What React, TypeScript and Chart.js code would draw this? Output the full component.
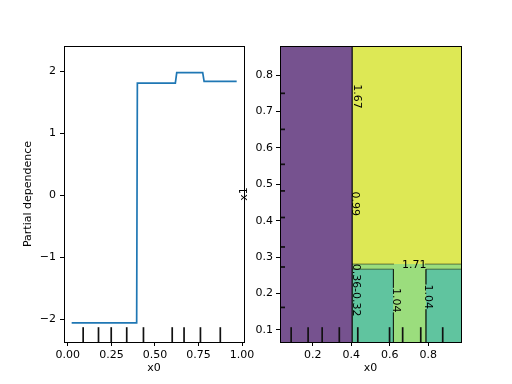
import React, { useEffect, useRef } from "react";
import { Chart, registerables } from "chart.js";
Chart.register(...registerables);

// ---------- data: one-way partial dependence (left) ----------
const X0_TICKS = [0, 0.25, 0.5, 0.75, 1.0];
const PD_TICKS = [-2, -1, 0, 1, 2];
const PD_X = [0.022, 0.395, 0.399, 0.617, 0.625, 0.774, 0.782, 0.969];
const PD_Y = [-2.06, -2.06, 1.81, 1.81, 1.98, 1.98, 1.84, 1.84];
const X0_DECILES = [0.088, 0.176, 0.249, 0.338, 0.434, 0.599, 0.667, 0.761, 0.875];

// ---------- data: two-way partial dependence (right) ----------
const CX_TICKS = [0.2, 0.4, 0.6, 0.8];
const CY_TICKS = [0.1, 0.2, 0.3, 0.4, 0.5, 0.6, 0.7, 0.8];
const X1_DECILES = [0.75, 0.651, 0.555, 0.482, 0.409, 0.328, 0.273, 0.162];

// filled contour bands (rectangular regions in data units)
const REGION_LEFT = [0.03, 0.405, 0.405, 0.405, 0.788];
const REGION_RIGHT = [0.405, 0.97, 0.97, 0.619, 0.97];
const REGION_TOP = [0.88, 0.88, 0.281, 0.267, 0.267];
const REGION_BOTTOM = [0.067, 0.281, 0.067, 0.067, 0.067];
const REGION_COLORS = ["#76528f", "#dde855", "#9bdd7d", "#60c49f", "#60c49f"];
const REGION_ORDER = [2, 2, 3, 2, 2];

// contour lines (null y = break for inline label)
const LINE_V_X = [0.405, 0.405];
const LINE_V_Y = [0.067, 0.88];
const LINE_171_X = [0.405, 0.622, 0.622, 0.783, 0.97];
const LINE_171_Y = [0.281, 0.281, null, 0.281, 0.281];
const LINE_104A_X = [0.405, 0.619, 0.619, 0.619, 0.619, 0.619];
const LINE_104A_Y = [0.267, 0.267, 0.216, null, 0.148, 0.067];
const LINE_104B_X = [0.97, 0.788, 0.788, 0.788, 0.788, 0.788];
const LINE_104B_Y = [0.267, 0.267, 0.225, null, 0.157, 0.067];

// contour labels
const CLABEL_TEXT = ["1.67", "0.99", "0.36", "-0.32", "1.71", "1.04", "1.04"];
const CLABEL_X = [0.428, 0.42, 0.423, 0.423, 0.727, 0.633, 0.8];
const CLABEL_Y = [0.741, 0.447, 0.248, 0.176, 0.279, 0.182, 0.191];
const CLABEL_ROT = [90, 90, 90, 90, 0, 90, 90];

const FONT = { family: "DejaVu Sans", size: 11 };

const pts = (xs: number[], ys: (number | null)[]) => xs.map((x, i) => ({ x, y: ys[i] }));

const framePlugin = {
  id: "frame",
  afterDraw(chart: any) {
    const { ctx, chartArea: a } = chart;
    ctx.save();
    ctx.strokeStyle = "#000";
    ctx.lineWidth = 1;
    ctx.strokeRect(Math.round(a.left) + 0.5, Math.round(a.top) + 0.5, Math.round(a.right - a.left), Math.round(a.bottom - a.top));
    ctx.restore();
  },
};

const makeDecilePlugin = (xd: number[], yd: number[]) => ({
  id: "deciles",
  afterDatasetsDraw(chart: any) {
    const { ctx, chartArea: a, scales } = chart;
    ctx.save();
    ctx.strokeStyle = "#111";
    ctx.lineWidth = 1.7;
    const h = (a.bottom - a.top) * 0.05;
    xd.forEach((v) => {
      const px = scales.x.getPixelForValue(v);
      ctx.beginPath();
      ctx.moveTo(px, a.bottom);
      ctx.lineTo(px, a.bottom - h);
      ctx.stroke();
    });
    yd.forEach((v) => {
      const py = scales.y.getPixelForValue(v);
      ctx.beginPath();
      ctx.moveTo(a.left, py);
      ctx.lineTo(a.left + 5, py);
      ctx.stroke();
    });
    ctx.restore();
  },
});

const clabelPlugin = {
  id: "clabels",
  afterDatasetsDraw(chart: any) {
    const { ctx, scales } = chart;
    ctx.save();
    ctx.font = '11px "DejaVu Sans"';
    ctx.fillStyle = "#000";
    ctx.textAlign = "center";
    ctx.textBaseline = "middle";
    CLABEL_TEXT.forEach((t, i) => {
      const px = scales.x.getPixelForValue(CLABEL_X[i]);
      const py = scales.y.getPixelForValue(CLABEL_Y[i]);
      ctx.save();
      ctx.translate(px, py);
      ctx.rotate((CLABEL_ROT[i] * Math.PI) / 180);
      ctx.fillText(t, 0, 0);
      ctx.restore();
    });
    ctx.restore();
  },
};

const axisCommon = (ticks: number[], fmt: (v: number) => string, pad: number) => ({
  type: "linear" as const,
  afterBuildTicks: (s: any) => {
    s.ticks = ticks.map((value) => ({ value }));
  },
  ticks: { callback: (v: any) => fmt(Number(v)), font: FONT, color: "#000", autoSkip: false, maxRotation: 0, padding: pad },
  grid: { drawOnChartArea: false, drawTicks: true, tickLength: 4, color: "#000", lineWidth: 1 },
  border: { display: false },
});

export default function App() {
  const ref1 = useRef<HTMLCanvasElement>(null);
  const ref2 = useRef<HTMLCanvasElement>(null);

  useEffect(() => {
    const c1 = new Chart(ref1.current as HTMLCanvasElement, {
      type: "line",
      data: {
        datasets: [
          {
            data: pts(PD_X, PD_Y),
            borderColor: "#1f77b4",
            borderWidth: 1.7,
            pointRadius: 0,
            fill: false,
            tension: 0,
          },
        ],
      },
      options: {
        animation: false,
        responsive: false,
        maintainAspectRatio: false,
        layout: { padding: { top: 46, right: 36, left: 0, bottom: 0 } },
        plugins: { legend: { display: false }, tooltip: { enabled: false } },
        scales: {
          x: {
            ...axisCommon(X0_TICKS, (v) => v.toFixed(2), 3),
            min: -0.022,
            max: 1.011,
            title: { display: true, text: "x0", font: FONT, color: "#000", padding: { top: 0, bottom: 9 } },
            afterFit: (s: any) => {
              s.height = 42;
            },
          },
          y: {
            ...axisCommon(PD_TICKS, (v) => String(v).replace("-", "\u2212"), 4),
            min: -2.37,
            max: 2.41,
            title: { display: true, text: "Partial dependence", font: FONT, color: "#000", padding: { top: 22, bottom: 0 } },
            afterFit: (s: any) => {
              s.width = 64;
            },
          },
        },
      } as any,
      plugins: [makeDecilePlugin(X0_DECILES, []), framePlugin],
    });

    const regionSets = REGION_LEFT.map((l, i) => ({
      data: pts([l, REGION_RIGHT[i]], [REGION_TOP[i], REGION_TOP[i]]),
      borderColor: "transparent",
      borderWidth: 0,
      pointRadius: 0,
      backgroundColor: REGION_COLORS[i],
      fill: i === 1 ? { value: REGION_BOTTOM[i] } : "start",
      order: REGION_ORDER[i],
    }));
    const lineSet = (xs: number[], ys: (number | null)[], w: number, c: string) => ({
      data: pts(xs, ys),
      borderColor: c,
      borderWidth: w,
      pointRadius: 0,
      fill: false,
      order: 0,
      spanGaps: false,
    });

    const c2 = new Chart(ref2.current as HTMLCanvasElement, {
      type: "line",
      data: {
        datasets: [
          ...regionSets,
          lineSet(LINE_V_X, LINE_V_Y, 1.4, "rgba(0,0,0,0.85)"),
          lineSet(LINE_171_X, LINE_171_Y, 0.7, "rgba(0,0,0,0.7)"),
          lineSet(LINE_104A_X, LINE_104A_Y, 0.7, "rgba(0,0,0,0.7)"),
          lineSet(LINE_104B_X, LINE_104B_Y, 0.7, "rgba(0,0,0,0.7)"),
        ],
      } as any,
      options: {
        animation: false,
        responsive: false,
        maintainAspectRatio: false,
        layout: { padding: { top: 46, right: 51, left: 0, bottom: 0 } },
        plugins: { legend: { display: false }, tooltip: { enabled: false } },
        scales: {
          x: {
            ...axisCommon(CX_TICKS, (v) => v.toFixed(1), 3),
            min: 0.03,
            max: 0.97,
            title: { display: true, text: "x0", font: FONT, color: "#000", padding: { top: 0, bottom: 9 } },
            afterFit: (s: any) => {
              s.height = 42;
            },
          },
          y: {
            ...axisCommon(CY_TICKS, (v) => v.toFixed(1), 3),
            min: 0.067,
            max: 0.88,
            title: { display: true, text: "x1", font: FONT, color: "#000", padding: { top: 8, bottom: 0 } },
            afterFit: (s: any) => {
              s.width = 50;
            },
          },
        },
      } as any,
      plugins: [clabelPlugin, makeDecilePlugin(X0_DECILES, X1_DECILES), framePlugin],
    });

    return () => {
      c1.destroy();
      c2.destroy();
    };
  }, []);

  return (
    <div style={{ position: "absolute", left: 0, top: 0, width: 512, height: 384, background: "#fff" }}>
      <canvas ref={ref1} width={280} height={384} style={{ position: "absolute", left: 0, top: 0 }} />
      <canvas ref={ref2} width={282} height={384} style={{ position: "absolute", left: 230, top: 0 }} />
    </div>
  );
}
